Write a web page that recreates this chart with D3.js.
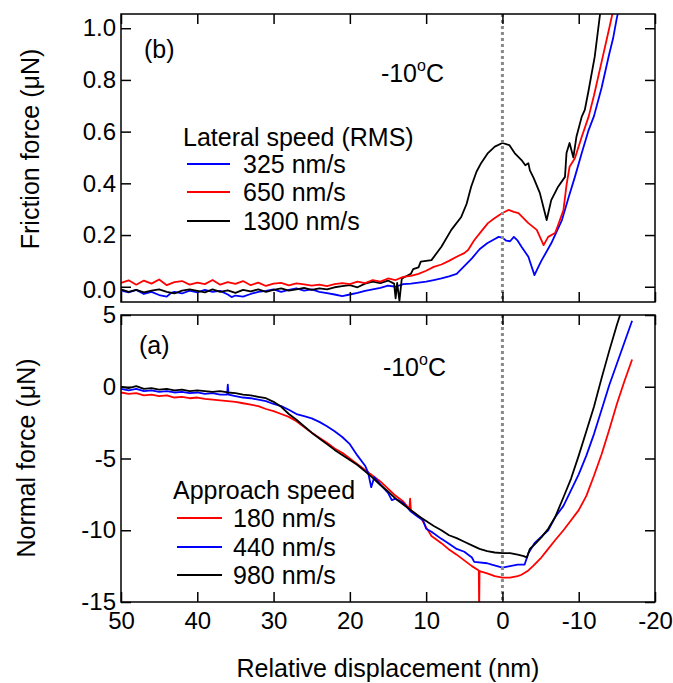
<!DOCTYPE html>
<html>
<head>
<meta charset="utf-8">
<script src="https://cdn.jsdelivr.net/npm/d3@7"></script>
<style>
    body { margin: 0; background: #fff; }
    text { font-family: "Liberation Sans", Arial, sans-serif; fill: #000; }
</style>
</head>
<body>
<div id="chart"></div>
<script>
//Friction force, panel (b): [displacement nm, force uN]
var frictionBlue = [[50,-0.015],[49,-0.022],[48,-0.012],[47,-0.028],[46,-0.02],[45,-0.032],[44,-0.038],[43.5,-0.025],[43,-0.02],[42,-0.026],[41,-0.015],[40,-0.022],[39,-0.012],[38,-0.02],[37,-0.016],[36,-0.03],[35.5,-0.04],[35,-0.034],[34,-0.038],[33,-0.028],[32,-0.02],[31,-0.016],[30,-0.01],[29,-0.02],[28,-0.012],[27,-0.006],[26,-0.015],[25,-0.01],[24,-0.02],[23,-0.025],[22,-0.03],[21,-0.036],[20,-0.03],[19,-0.024],[18,-0.016],[17,-0.01],[16,-0.004],[15,0.004],[14,0.0],[13,0.01],[12,0.012],[11,0.016],[10,0.02],[9,0.026],[8,0.032],[7,0.04],[6,0.05],[5,0.08],[4,0.11],[3,0.145],[2,0.168],[1,0.185],[0.5,0.193],[0,0.19],[-0.5,0.178],[-1,0.176],[-1.5,0.193],[-2,0.178],[-2.5,0.155],[-3.4,0.116],[-3.8,0.08],[-4.2,0.045],[-4.6,0.07],[-5.1,0.1],[-6.4,0.168],[-7.8,0.258],[-8.7,0.348],[-9.5,0.425],[-10.4,0.517],[-11.3,0.606],[-12,0.66],[-13,0.77],[-14,0.9],[-14.5,0.96],[-15,1.04],[-15.4,1.09]];
var frictionRed = [[50,0.015],[49,0.025],[48,0.008],[47,0.024],[46,0.012],[45,0.028],[44,0.006],[43,0.018],[42,0.022],[41,0.008],[40,0.016],[39,0.01],[38,0.026],[37,0.008],[36,0.018],[35,0.011],[34,0.022],[33,0.006],[32,0.016],[31,0.003],[30,0.012],[29,0.015],[28,0.005],[27,0.013],[26,0.009],[25,0.004],[24,0.008],[23,0.002],[22,0.01],[21,0.014],[20,0.01],[19,0.02],[18,0.014],[17,0.026],[16,0.02],[15,0.032],[14,0.026],[13,0.038],[12,0.042],[11,0.05],[10,0.062],[9,0.077],[8,0.086],[7,0.1],[6,0.116],[5,0.13],[4.5,0.142],[3.7,0.18],[2.8,0.213],[1.9,0.246],[1,0.266],[0,0.285],[-0.8,0.297],[-1.5,0.29],[-2.1,0.285],[-3.4,0.246],[-4.5,0.22],[-5.4,0.161],[-6,0.193],[-6.9,0.208],[-7.3,0.239],[-8,0.297],[-8.4,0.393],[-8.8,0.464],[-9.5,0.497],[-10.4,0.58],[-11.3,0.658],[-12,0.74],[-13,0.87],[-14,1.0],[-14.6,1.08]];
var frictionBlack = [[50,-0.01],[49,-0.02],[48,-0.012],[47,-0.022],[46,-0.015],[45,-0.01],[44,-0.02],[43,-0.026],[42,-0.015],[41,-0.01],[40,-0.016],[39,-0.022],[38,-0.01],[37,-0.02],[36,-0.014],[35,-0.024],[34,-0.012],[33,-0.018],[32,-0.01],[31,-0.02],[30,-0.012],[29,-0.006],[28,-0.015],[27,-0.01],[26,-0.004],[25,-0.012],[24,-0.006],[23,-0.01],[22,-0.002],[21,0.002],[20,0.006],[19,-0.002],[18,0.012],[17,0.02],[16,0.014],[15,0.024],[14.2,0.012],[14,-0.045],[13.8,0.015],[13.5,-0.055],[13.2,0.03],[13,0.035],[12,0.05],[11.7,0.068],[11,0.075],[10.7,0.097],[9.3,0.103],[8,0.155],[6.7,0.22],[5.4,0.27],[4.7,0.32],[4.1,0.387],[3.4,0.445],[2.8,0.478],[1.9,0.517],[1,0.542],[0,0.556],[-0.9,0.548],[-1.6,0.517],[-2.5,0.49],[-3,0.47],[-3.4,0.478],[-3.6,0.45],[-4.1,0.42],[-4.9,0.363],[-5.8,0.258],[-6.4,0.335],[-7.3,0.387],[-8.2,0.425],[-8.4,0.517],[-8.8,0.556],[-9.3,0.5],[-9.7,0.58],[-10.4,0.658],[-10.8,0.684],[-11.3,0.76],[-12.1,0.89],[-12.8,1.055],[-13,1.09]];

//Normal force, panel (a)
var normalRed = [[50,-0.4],[49,-0.5],[48,-0.45],[47,-0.6],[46,-0.55],[45,-0.65],[44,-0.6],[43,-0.75],[42,-0.7],[41,-0.8],[40,-0.75],[39,-0.85],[38,-0.9],[37,-0.95],[36,-1.0],[35,-1.05],[34,-1.15],[33,-1.25],[32,-1.35],[31,-1.55],[30,-1.7],[29,-1.9],[28,-2.1],[27,-2.4],[26,-2.8],[25,-3.2],[24,-3.55],[23,-3.9],[22,-4.3],[21,-4.6],[20,-5.0],[19,-5.4],[18,-5.8],[17,-6.2],[16,-6.6],[15,-7.1],[14,-7.6],[13,-8.0],[12.2,-8.5],[12.1,-7.8],[12,-8.6],[11,-9.0],[10.6,-9.2],[10,-9.8],[9.3,-10.4],[8,-10.9],[7.1,-11.3],[6,-11.7],[5,-12.1],[4,-12.5],[3.1,-12.8],[3.05,-15.5],[3.0,-12.85],[2,-13.0],[1,-13.2],[0,-13.3],[-1,-13.3],[-2,-13.2],[-2.5,-13.1],[-3.4,-12.8],[-4,-12.5],[-5.1,-11.9],[-6,-11.3],[-6.9,-10.7],[-8,-10.0],[-9,-9.3],[-10,-8.6],[-11,-7.6],[-12,-6.2],[-13,-4.7],[-14,-3.0],[-15,-1.2],[-16,0.4],[-17,1.9]];
var normalBlue = [[50,-0.15],[49,-0.25],[48,-0.15],[47,-0.3],[46,-0.25],[45,-0.35],[44,-0.3],[43,-0.4],[42,-0.35],[41,-0.45],[40,-0.4],[39,-0.5],[38,-0.45],[37,-0.55],[36.1,-0.55],[36,0.15],[35.9,-0.55],[35,-0.65],[34,-0.75],[33,-0.8],[32,-0.9],[31,-1.0],[30,-1.2],[29,-1.35],[28,-1.6],[27,-1.9],[26,-2.05],[25,-2.2],[24,-2.45],[23,-2.75],[22,-3.1],[21,-3.5],[20,-4.0],[19,-4.8],[18,-5.5],[17.6,-6.0],[17.2,-7.0],[16.8,-6.3],[16,-6.8],[15,-7.4],[14.5,-7.9],[14,-7.8],[13,-8.1],[12,-8.7],[11,-9.1],[10.4,-9.3],[10,-9.9],[9.3,-10.1],[8,-10.6],[7.1,-10.9],[6,-11.3],[5,-11.5],[4,-11.9],[3.7,-12.2],[2,-12.3],[1.4,-12.4],[0,-12.6],[-1,-12.5],[-2,-12.4],[-2.9,-12.4],[-3.4,-11.6],[-4.2,-10.9],[-5,-10.5],[-6,-10.0],[-6.9,-9.1],[-8,-8.3],[-9,-7.2],[-10,-6.1],[-11,-4.8],[-12,-3.3],[-13,-1.6],[-14,0.1],[-15,1.6],[-16,3.1],[-17,4.6]];
var normalBlack = [[50,0.0],[49,-0.1],[48,0.05],[47,-0.15],[46,-0.1],[45,-0.2],[44,-0.15],[43,-0.25],[42,-0.2],[41,-0.3],[40,-0.25],[39,-0.3],[38,-0.35],[37,-0.3],[36,-0.4],[35,-0.45],[34,-0.55],[33,-0.6],[32,-0.7],[31,-0.8],[30,-1.05],[29,-1.4],[28,-1.9],[27,-2.3],[26,-2.75],[25,-3.2],[24,-3.6],[23,-4.0],[22,-4.4],[21,-4.75],[20,-5.1],[19,-5.45],[18,-5.9],[17,-6.35],[16,-6.85],[15,-7.3],[14,-7.8],[13,-8.2],[12,-8.6],[11,-9.0],[10,-9.35],[9,-9.7],[8,-10.0],[7,-10.35],[6,-10.55],[5,-10.8],[4,-11.05],[3,-11.3],[2,-11.45],[1,-11.55],[0,-11.6],[-1,-11.6],[-2,-11.7],[-2.8,-11.8],[-3.2,-11.9],[-3.6,-11.3],[-4.2,-11.0],[-5.1,-10.5],[-6,-9.9],[-6.9,-9.1],[-8,-7.7],[-9,-6.4],[-10,-4.8],[-11,-3.1],[-12,-1.4],[-13,0.6],[-14,2.5],[-15,4.3],[-15.6,5.3]];

//Ticks and legends
var xTicks = [50, 40, 30, 20, 10, 0, -10, -20];
var frictionTicks = [0, 0.2, 0.4, 0.6, 0.8, 1.0];
var normalTicks = [-15, -10, -5, 0, 5];
var lateralLabels = ["325 nm/s", "650 nm/s", "1300 nm/s"];
var approachLabels = ["180 nm/s", "440 nm/s", "980 nm/s"];

var width = 673, height = 683;
var left = 121, right = 655;

var svg = d3.select("#chart")
    .append("svg")
    .attr("width", width)
    .attr("height", height);

var x = d3.scaleLinear().domain([50, -20]).range([left, right]);
var yTop = d3.scaleLinear().domain([-0.059, 1.055]).range([302, 14]);
var yBot = d3.scaleLinear().domain([-15, 5]).range([602, 315]);

//plain hyphen for negatives, like the original figure
var intFormat = function (d) { return String(d); };

function drawPanel(id, y, ticks, fmt, series, showX) {
    var top = y.range()[1], bottom = y.range()[0];
    var g = svg.append("g").attr("id", id);

    g.append("clipPath")
        .attr("id", "clip-" + id)
        .append("rect")
        .attr("x", left)
        .attr("y", top)
        .attr("width", right - left)
        .attr("height", bottom - top);

    var line = d3.line()
        .x(function (d) { return x(d[0]); })
        .y(function (d) { return y(d[1]); });

    series.forEach(function (s) {
        g.append("path")
            .datum(s.data)
            .attr("d", line)
            .attr("fill", "none")
            .attr("stroke", s.color)
            .attr("stroke-width", 1.8)
            .attr("stroke-linejoin", "round")
            .attr("clip-path", "url(#clip-" + id + ")");
    });

    //dotted line at zero displacement
    g.append("line")
        .attr("x1", x(0)).attr("x2", x(0))
        .attr("y1", top).attr("y2", bottom)
        .attr("stroke", "#8a8a8a")
        .attr("stroke-width", 3)
        .attr("stroke-dasharray", "3,3");

    var axisL = g.append("g")
        .attr("transform", "translate(" + left + ",0)")
        .call(d3.axisLeft(y).tickValues(ticks).tickFormat(fmt).tickSize(-10).tickSizeOuter(0).tickPadding(5));
    g.append("g")
        .attr("transform", "translate(" + right + ",0)")
        .call(d3.axisRight(y).tickValues(ticks).tickFormat("").tickSize(-10).tickSizeOuter(0));
    g.append("g")
        .attr("transform", "translate(0," + top + ")")
        .call(d3.axisTop(x).tickValues(xTicks).tickFormat("").tickSize(-10).tickSizeOuter(0));
    g.append("g")
        .attr("transform", "translate(0," + bottom + ")")
        .call(d3.axisBottom(x).tickValues(xTicks).tickFormat(showX ? intFormat : "").tickSize(-10).tickSizeOuter(0).tickPadding(10));

    g.selectAll(".domain").remove();
    g.selectAll(".tick line").attr("stroke", "#000").attr("stroke-width", 1.5);
    g.selectAll(".tick text")
        .attr("font-size", "24px")
        .attr("font-family", "Liberation Sans, Arial, sans-serif")
        .attr("fill", "#000");

    g.append("rect")
        .attr("x", left)
        .attr("y", top)
        .attr("width", right - left)
        .attr("height", bottom - top)
        .attr("fill", "none")
        .attr("stroke", "#000")
        .attr("stroke-width", 1.5);

    return axisL;
}

var axisTopPanel = drawPanel("friction", yTop, frictionTicks, d3.format(".1f"), [
    {data: frictionBlue, color: "#0000ff"},
    {data: frictionBlack, color: "#000000"},
    {data: frictionRed, color: "#ff0000"}
], false);
//0.0 label sits a bit lower in the original
axisTopPanel.selectAll(".tick text")
    .filter(function (d) { return d === 0; })
    .attr("y", 3);

drawPanel("normal", yBot, normalTicks, intFormat, [
    {data: normalRed, color: "#ff0000"},
    {data: normalBlue, color: "#0000ff"},
    {data: normalBlack, color: "#000000"}
], true);

//Axis titles
svg.append("text")
    .attr("transform", "translate(39,149) rotate(-90)")
    .attr("text-anchor", "middle")
    .attr("font-size", "25px")
    .text("Friction force (\u03bcN)");

svg.append("text")
    .attr("transform", "translate(35,458) rotate(-90)")
    .attr("text-anchor", "middle")
    .attr("font-size", "25px")
    .text("Normal force (\u03bcN)");

svg.append("text")
    .attr("x", 388)
    .attr("y", 677)
    .attr("text-anchor", "middle")
    .attr("font-size", "25px")
    .text("Relative displacement (nm)");

//Panel labels and temperature
function temperature(xEnd, yBase) {
    var t = svg.append("text")
        .attr("x", xEnd)
        .attr("y", yBase)
        .attr("text-anchor", "end")
        .attr("font-size", "25px");
    t.append("tspan").text("-10");
    t.append("tspan").attr("font-size", "16px").attr("dy", -11).text("o");
    t.append("tspan").attr("dy", 11).text("C");
}
temperature(444, 82);
temperature(446, 376);

svg.append("text").attr("x", 144).attr("y", 58).attr("font-size", "25px").text("(b)");
svg.append("text").attr("x", 139).attr("y", 354).attr("font-size", "25px").text("(a)");

//Legends
function legend(title, labels, colors, tx, ty, lx0, lx1, textX, rows) {
    svg.append("text")
        .attr("x", tx)
        .attr("y", ty)
        .attr("font-size", "25px")
        .text(title);
    labels.forEach(function (lab, i) {
        svg.append("line")
            .attr("x1", lx0).attr("x2", lx1)
            .attr("y1", rows[i]).attr("y2", rows[i])
            .attr("stroke", colors[i])
            .attr("stroke-width", 1.8);
        svg.append("text")
            .attr("x", textX)
            .attr("y", rows[i] + 9)
            .attr("font-size", "25px")
            .text(lab);
    });
}
legend("Lateral speed (RMS)", lateralLabels, ["#0000ff", "#ff0000", "#000000"], 183, 146, 187, 230, 243, [164, 192, 221]);
legend("Approach speed", approachLabels, ["#ff0000", "#0000ff", "#000000"], 173, 499, 177, 222, 233, [518, 547, 575]);
</script>
</body>
</html>
